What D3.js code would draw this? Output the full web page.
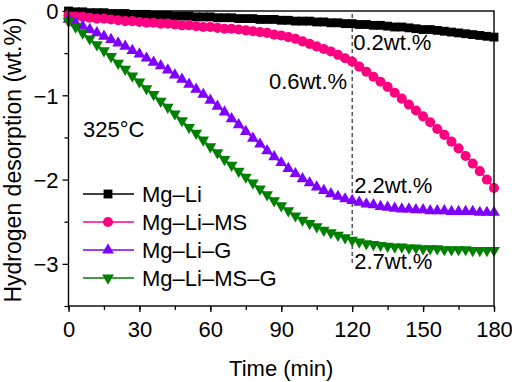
<!DOCTYPE html>
<html>
<head>
<meta charset="utf-8">
<script src="https://cdn.jsdelivr.net/npm/d3@7"></script>
<style>
  body { margin: 0; background: #fff; }
  text { font-family: "Liberation Sans", Arial, sans-serif; fill: #000; }
</style>
</head>
<body>
<svg id="stage"></svg>
<script>
/* ---------- data ---------- */

const time_min = [0, 3, 6, 9, 12, 15, 18, 21, 24, 27, 30, 33, 36, 39, 42, 45, 48, 51, 54, 57,
  60, 63, 66, 69, 72, 75, 78, 81, 84, 87, 90, 93, 96, 99, 102, 105, 108, 111, 114, 117,
  120, 123, 126, 129, 132, 135, 138, 141, 144, 147, 150, 153, 156, 159, 162, 165, 168, 171, 174, 177, 180];

const mg_li = [0.00, -0.01, -0.01, -0.02, -0.02, -0.02, -0.03, -0.03, -0.03, -0.04, -0.04, -0.04, -0.05, -0.05, -0.05, -0.06, -0.06, -0.06, -0.07, -0.07,
  -0.07, -0.08, -0.08, -0.08, -0.09, -0.09, -0.09, -0.10, -0.10, -0.10, -0.11, -0.11, -0.12, -0.12, -0.12, -0.13, -0.13, -0.14, -0.14, -0.15,
  -0.15, -0.16, -0.16, -0.17, -0.17, -0.18, -0.19, -0.19, -0.20, -0.21, -0.22, -0.22, -0.23, -0.24, -0.25, -0.26, -0.27, -0.28, -0.29, -0.30, -0.31];

const mg_li_ms = [-0.05, -0.06, -0.07, -0.08, -0.09, -0.09, -0.10, -0.11, -0.12, -0.12, -0.13, -0.14, -0.14, -0.15, -0.15, -0.16, -0.17, -0.17, -0.18, -0.19,
  -0.19, -0.20, -0.21, -0.21, -0.22, -0.23, -0.24, -0.25, -0.26, -0.28, -0.29, -0.31, -0.33, -0.36, -0.39, -0.42, -0.45, -0.48, -0.52, -0.56,
  -0.60, -0.66, -0.72, -0.78, -0.84, -0.90, -0.97, -1.04, -1.11, -1.18, -1.25, -1.32, -1.40, -1.47, -1.55, -1.63, -1.72, -1.81, -1.90, -2.00, -2.10];

const mg_li_g = [-0.10, -0.14, -0.18, -0.22, -0.26, -0.30, -0.34, -0.38, -0.42, -0.47, -0.51, -0.56, -0.61, -0.65, -0.70, -0.76, -0.81, -0.87, -0.93, -0.99,
  -1.06, -1.13, -1.20, -1.28, -1.35, -1.43, -1.51, -1.58, -1.66, -1.73, -1.80, -1.87, -1.93, -1.99, -2.04, -2.09, -2.13, -2.17, -2.20, -2.23,
  -2.25, -2.27, -2.29, -2.30, -2.32, -2.33, -2.34, -2.35, -2.35, -2.36, -2.36, -2.37, -2.37, -2.37, -2.38, -2.38, -2.38, -2.38, -2.39, -2.39, -2.39];

const mg_li_ms_g = [-0.12, -0.19, -0.26, -0.33, -0.40, -0.47, -0.54, -0.62, -0.69, -0.77, -0.84, -0.92, -0.99, -1.07, -1.14, -1.22, -1.30, -1.38, -1.45, -1.53,
  -1.61, -1.68, -1.76, -1.83, -1.90, -1.97, -2.04, -2.11, -2.18, -2.25, -2.31, -2.37, -2.43, -2.48, -2.52, -2.56, -2.60, -2.63, -2.66, -2.69,
  -2.72, -2.74, -2.76, -2.77, -2.78, -2.79, -2.80, -2.80, -2.81, -2.81, -2.82, -2.82, -2.82, -2.83, -2.83, -2.83, -2.83, -2.84, -2.84, -2.84, -2.84];

const series_names = ["Mg\u2013Li", "Mg\u2013Li\u2013MS", "Mg\u2013Li\u2013G", "Mg\u2013Li\u2013MS\u2013G"];
const series_values = [mg_li, mg_li_ms, mg_li_g, mg_li_ms_g];
const series_colors = ["#000000", "#ff0080", "#8000ff", "#008000"];

const x_ticks = [0, 30, 60, 90, 120, 150, 180];
const y_ticks = [0, -1, -2, -3];

const notes = [
  { t: 120, v: -0.2, text: "0.2wt.%" },
  { t: 120, v: -0.6, text: "0.6wt.%" },
  { t: 120, v: -2.2, text: "2.2wt.%" },
  { t: 120, v: -2.7, text: "2.7wt.%" }
];

/* ---------- setup ---------- */

const width = 512;
const height = 382;

const svg = d3.select("#stage")
  .attr("width", width)
  .attr("height", height);

const x = d3.scaleLinear().domain([0, 180]).range([68.5, 494]);
const y = d3.scaleLinear().domain([-3.5, 0]).range([306, 11]);

const symbols = [
  d3.symbol().type(d3.symbolSquare).size(78)(),
  d3.symbol().type(d3.symbolCircle).size(80)(),
  d3.symbol().type(d3.symbolTriangle).size(60)(),
  d3.symbol().type(d3.symbolTriangle).size(60)()
];
const rotations = [0, 0, 0, 180];

/* ---------- axes ---------- */

const font_size = 22;

svg.append("g")
  .attr("transform", `translate(0, ${y(-3.5)})`)
  .call(d3.axisBottom(x).tickValues(d3.range(0, 181, 15)).tickSize(4).tickFormat(""))
  .call(g => g.select(".domain").remove());

svg.append("g")
  .attr("transform", `translate(0, ${y(-3.5)})`)
  .call(d3.axisBottom(x).tickValues(x_ticks).tickSize(6).tickPadding(6))
  .call(g => g.select(".domain").remove())
  .call(g => g.selectAll("text")
    .attr("font-size", font_size).attr("font-family", null)
    .attr("dy", null).attr("y", 337 - y(-3.5)));

svg.append("g")
  .attr("transform", `translate(${x(0)}, 0)`)
  .call(d3.axisLeft(y).tickValues([-0.5, -1.5, -2.5, -3.5]).tickSize(4).tickFormat(""))
  .call(g => g.select(".domain").remove());

svg.append("g")
  .attr("transform", `translate(${x(0)}, 0)`)
  .call(d3.axisLeft(y).tickValues(y_ticks).tickSize(6).tickPadding(4).tickFormat(d3.format("d")))
  .call(g => g.select(".domain").remove())
  .call(g => g.selectAll("text")
    .attr("font-size", font_size).attr("font-family", null)
    .attr("dy", "0.36em"));

svg.selectAll(".tick line").attr("stroke-width", 1.3);

/* ---------- reference line ---------- */

svg.append("line")
  .attr("x1", x(120)).attr("x2", x(120))
  .attr("y1", 14).attr("y2", 263)
  .attr("stroke", "#000")
  .attr("stroke-width", 1)
  .attr("stroke-dasharray", "4,3");

/* ---------- series ---------- */

const line = d3.line()
  .x((d, i) => x(time_min[i]))
  .y(d => y(d));

series_values.forEach((vals, s) => {
  const layer = svg.append("g");
  layer.append("path")
    .attr("d", line(vals))
    .attr("fill", "none")
    .attr("stroke", series_colors[s])
    .attr("stroke-width", 1.5);
  layer.selectAll("path.pt")
    .data(vals)
    .join("path")
    .attr("class", "pt")
    .attr("d", symbols[s])
    .attr("transform", (d, i) => `translate(${x(time_min[i])}, ${y(d)}) rotate(${rotations[s]})`)
    .attr("fill", series_colors[s]);
});

/* ---------- frame ---------- */

svg.append("rect")
  .attr("x", x(0)).attr("y", y(0))
  .attr("width", x(180) - x(0))
  .attr("height", y(-3.5) - y(0))
  .attr("fill", "none")
  .attr("stroke", "#000")
  .attr("stroke-width", 1.4);

/* ---------- legend ---------- */

const legend = svg.append("g");
series_names.forEach((name, s) => {
  const ly = 194 + s * 28;
  legend.append("line")
    .attr("x1", 83).attr("x2", 134)
    .attr("y1", ly).attr("y2", ly)
    .attr("stroke", series_colors[s])
    .attr("stroke-width", 1.5);
  legend.append("path")
    .attr("d", symbols[s])
    .attr("transform", `translate(108, ${ly}) rotate(${rotations[s]})`)
    .attr("fill", series_colors[s]);
  legend.append("text")
    .attr("x", 142)
    .attr("y", ly + 8)
    .attr("font-size", font_size)
    .text(name);
});

/* ---------- annotations ---------- */

svg.append("text")
  .attr("x", 83).attr("y", 137)
  .attr("font-size", font_size)
  .text("325\u00b0C");

const note_pos = [
  { dx: 1, y: 50, anchor: "start" },
  { dx: -5, y: 89, anchor: "end" },
  { dx: 2, y: 193, anchor: "start" },
  { dx: 2, y: 269, anchor: "start" }
];

svg.selectAll("text.note")
  .data(notes)
  .join("text")
  .attr("class", "note")
  .attr("x", (d, i) => x(d.t) + note_pos[i].dx)
  .attr("y", (d, i) => note_pos[i].y)
  .attr("text-anchor", (d, i) => note_pos[i].anchor)
  .attr("font-size", font_size)
  .text(d => d.text);

/* ---------- titles ---------- */

svg.append("text")
  .attr("x", (x(0) + x(180)) / 2)
  .attr("y", 376)
  .attr("text-anchor", "middle")
  .attr("font-size", font_size)
  .text("Time (min)");

svg.append("text")
  .attr("transform", `translate(21, 160) rotate(-90)`)
  .attr("text-anchor", "middle")
  .attr("font-size", 23)
  .text("Hydrogen desorption (wt.%)");
</script>
</body>
</html>
